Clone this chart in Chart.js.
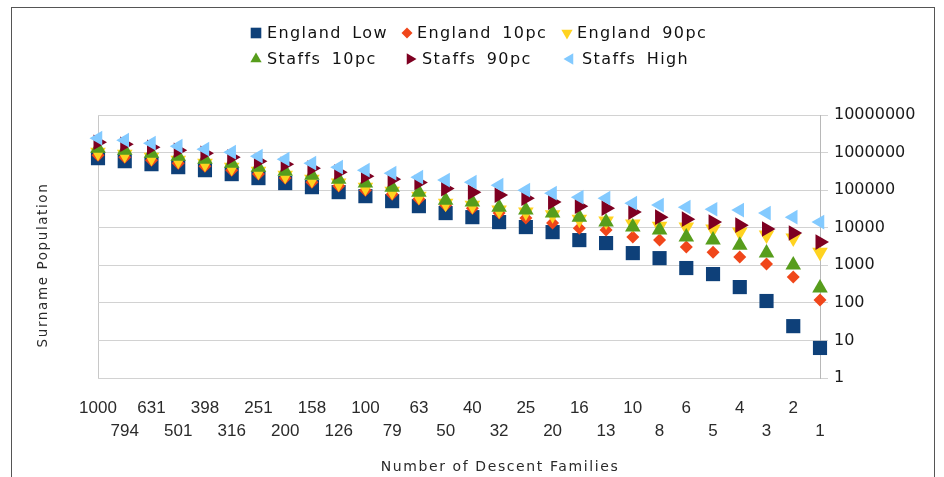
<!DOCTYPE html>
<html><head><meta charset="utf-8">
<script src="https://cdn.jsdelivr.net/npm/chart.js@4.4.1/dist/chart.umd.min.js"></script>
<style>
html,body{margin:0;padding:0;background:#fff;}
#wrap{position:relative;width:944px;height:477px;overflow:hidden;background:#fff;}
#c{position:absolute;left:0;top:0;}
.frame{position:absolute;left:11px;top:7px;width:924px;height:490px;border:1.5px solid #555;box-sizing:border-box;pointer-events:none;}
.lg{position:absolute;font:16px 'DejaVu Sans';letter-spacing:1.4px;word-spacing:4px;color:#111;line-height:20px;white-space:pre;}
.ttl{position:absolute;font:13.5px 'DejaVu Sans';letter-spacing:1.6px;color:#2a2a2a;white-space:nowrap;}
</style></head>
<body>
<div id="wrap">
<canvas id="c" width="944" height="477"></canvas>
<div class="frame"></div>
<div class="lg" style="left:267px;top:23px">England Low</div>
<div class="lg" style="left:417px;top:23px">England 10pc</div>
<div class="lg" style="left:577px;top:23px">England 90pc</div>
<div class="lg" style="left:267px;top:49px">Staffs 10pc</div>
<div class="lg" style="left:422px;top:49px">Staffs 90pc</div>
<div class="lg" style="left:582px;top:49px">Staffs High</div>
<div class="ttl" id="ytitle" style="left:42px;top:265px;transform:translate(-50%,-50%) rotate(-90deg);">Surname Population</div>
<div class="ttl" id="xtitle" style="left:500px;top:466px;transform:translate(-50%,-50%);font-size:14px;">Number of Descent Families</div>
</div>
<script>
const categories = ['1000','794','631','501','398','316','251','200','158','126','100','79','63','50','40','32','25','20','16','13','10','8','6','5','4','3','2','1'];
const yTicks = [1,10,100,1000,10000,100000,1000000,10000000];

const englandLow = [710000,590000,491000,409000,340000,267000,209000,154000,120000,88500,69200,51000,37500,24500,19100,14100,10400,7640,4680,3900,2110,1550,845,583,263,112,24,6.3];
const england10pc = [853000,755000,628000,522000,435000,340000,267000,209000,163000,128000,100000,78300,57700,39900,33200,24500,18000,13300,9750,8630,5620,4680,3050,2240,1650,1080,485,119];
const england90pc = [1025000,906000,755000,628000,522000,409000,320000,251000,196000,154000,120000,94000,69200,45100,39900,29400,26000,22300,16900,15000,12500,11000,10400,9200,7640,6350,5290,2240];
const staffs10pc = [1309000,1158000,964000,802000,667000,522000,409000,320000,251000,196000,154000,120000,88500,54200,48000,35300,29400,24500,19100,14100,10400,8630,5620,4680,3440,2110,1010,248];
const staffs90pc = [1890000,1672000,1392000,1158000,964000,755000,590000,491000,385000,301000,236000,196000,160000,110000,88500,73700,61300,48000,37500,33200,26000,19100,16900,14100,11700,9200,7200,4140];
const staffsHigh = [2415000,2140000,1780000,1480000,1230000,1025000,802000,667000,522000,409000,340000,283000,222000,185000,163000,136000,100000,83000,65000,61000,45000,40000,35300,31000,29400,24500,19100,14100];

const seriesNames = ['England Low','England 10pc','England 90pc','Staffs 10pc','Staffs 90pc','Staffs High'];
const colors = ['#0e4079','#f0461a','#ffd320','#579d1c','#7e0021','#83caff'];
const styles = ['rect','rectRot','triangle','triangle','triangle','triangle'];
const rotations = [0,0,180,0,90,-90];
const radii = [10,6.5,9,9,9,8.5];
const seriesData = [englandLow,england10pc,england90pc,staffs10pc,staffs90pc,staffsHigh];

const datasets = seriesData.map((d,i)=>({
  label: seriesNames[i], data: d,
  backgroundColor: colors[i], borderColor: colors[i],
  pointStyle: styles[i], pointRotation: rotations[i],
  pointRadius: radii[i], pointHoverRadius: radii[i], pointBorderWidth: 0,
  showLine: false, clip: false, order: 5 - i
}));

// legend marker layout (positions only)
const legendPos = [[256,33],[407,33],[567,33],[256,59],[410,59],[570,59]];
const legendR = [7.5,5.5,6.5,6.5,6.5,6.5];
const legendMarkers = {
  id:'legendMarkers',
  afterDraw(chart){
    const ctx = chart.ctx;
    legendPos.forEach((p,i)=>{
      ctx.save();
      ctx.fillStyle = colors[i]; ctx.strokeStyle = colors[i];
      Chart.helpers.drawPoint(ctx,{pointStyle:styles[i],radius:legendR[i],rotation:rotations[i],borderWidth:0},p[0],p[1]);
      ctx.restore();
    });
  }
};

new Chart(document.getElementById('c'), {
  type:'line',
  data:{labels:categories, datasets},
  plugins:[legendMarkers],
  options:{
    responsive:false, animation:false,
    layout:{padding:{left:98,top:115,right:0,bottom:0}},
    plugins:{legend:{display:false},tooltip:{enabled:false}},
    scales:{
      x:{
        type:'category', offset:false,
        grid:{display:true, drawTicks:false, color:(c)=> c.index===0 ? '#c8c8c8' : 'rgba(0,0,0,0)', lineWidth:1},
        border:{display:false},
        ticks:{autoSkip:false, maxRotation:0, minRotation:0, padding:18, color:'#2a2a2a',
          font:{family:"'Liberation Sans Narrow','Liberation Sans'", size:17, lineHeight:1.4},
          callback:(v,i)=> i%2===0 ? categories[i] : ['', categories[i]]},
        afterFit:(s)=>{ s.height = 99; }
      },
      y:{
        type:'logarithmic', position:'right', min:1, max:10000000,
        afterBuildTicks:(s)=>{ s.ticks = yTicks.map(v=>({value:v})); },
        grid:{color:'#d2d2d2', tickLength:8, drawTicks:true},
        border:{display:true, color:'#b8b8b8'},
        ticks:{padding:6, color:'#1a1a1a', font:{family:'DejaVu Sans', size:16}, callback:(v)=> String(v)},
        afterFit:(s)=>{ s.width = 124; }
      }
    }
  }
});
</script>
</body></html>
